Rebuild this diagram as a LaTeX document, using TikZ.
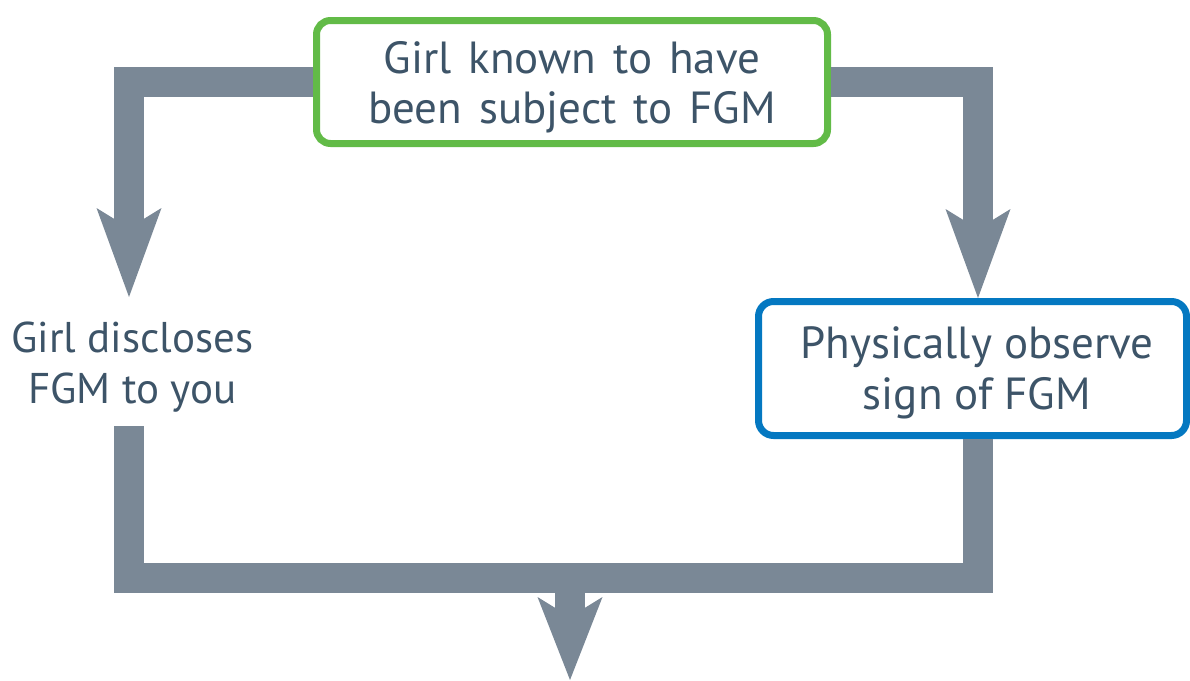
\documentclass[tikz,border=0pt]{standalone}
\usepackage{fontspec}
\setmainfont{PT Sans}
\usetikzlibrary{arrows.meta}
\definecolor{barc}{HTML}{7A8896}
\definecolor{gbord}{HTML}{62BB47}
\definecolor{bbord}{HTML}{0478C1}
\definecolor{txtc}{HTML}{3D5468}
\newcommand{\widewords}{\spaceskip=17pt plus 2pt minus 2pt\relax}
\begin{document}
\begin{tikzpicture}[x=1pt,y=-1pt,
  barline/.style={draw=barc, line width=30pt},
  bartip/.style={-{Stealth[length=#1,width=65pt,inset=20pt,line width=0pt,fill=barc]}},
  bartip/.default=89pt,
  boxG/.style={draw=gbord, line width=7pt, rounded corners=14pt, minimum width=511pt, minimum height=123pt, fill=white, inner sep=0pt},
  boxB/.style={draw=bbord, line width=7pt, rounded corners=15pt, minimum width=428pt, minimum height=134pt, fill=white, inner sep=0pt},
  lbl/.style={text=txtc, font=\fontsize{43}{51}\selectfont, align=center, inner sep=0pt},
  lblbig/.style={lbl, font=\fontsize{45}{51}\selectfont}]
\useasboundingbox (0,0) rectangle (1190,680);
\node[boxG] (girl) at (572,82) {};
\node[lblbig, font=\fontsize{45}{50}\selectfont\widewords] (girltxt) at (572,87.5) {Girl known to have\\been subject to FGM};
\node[boxB] (phys) at (972.5,368.5) {};
\node[lblbig] (phystxt) at (977,372.5) {Physically observe\\sign of FGM};
\node[lbl] (disc) at (132.5,367.5) {Girl discloses\\FGM to you};
\coordinate (lend) at (129,297);
\coordinate (rend) at (978,298);
\coordinate (lstart) at (129,426);
\coordinate (join) at (570,578);
\coordinate (out) at (570,680);
\draw[barline,bartip] (girl.west) -| (lend);
\draw[barline,bartip] (girl.east) -| (rend);
\draw[barline] (lstart) |- (join) -| (phys.south -| rend);
\draw[barline,bartip=83pt] (join) -- (out);
\end{tikzpicture}
\end{document}
